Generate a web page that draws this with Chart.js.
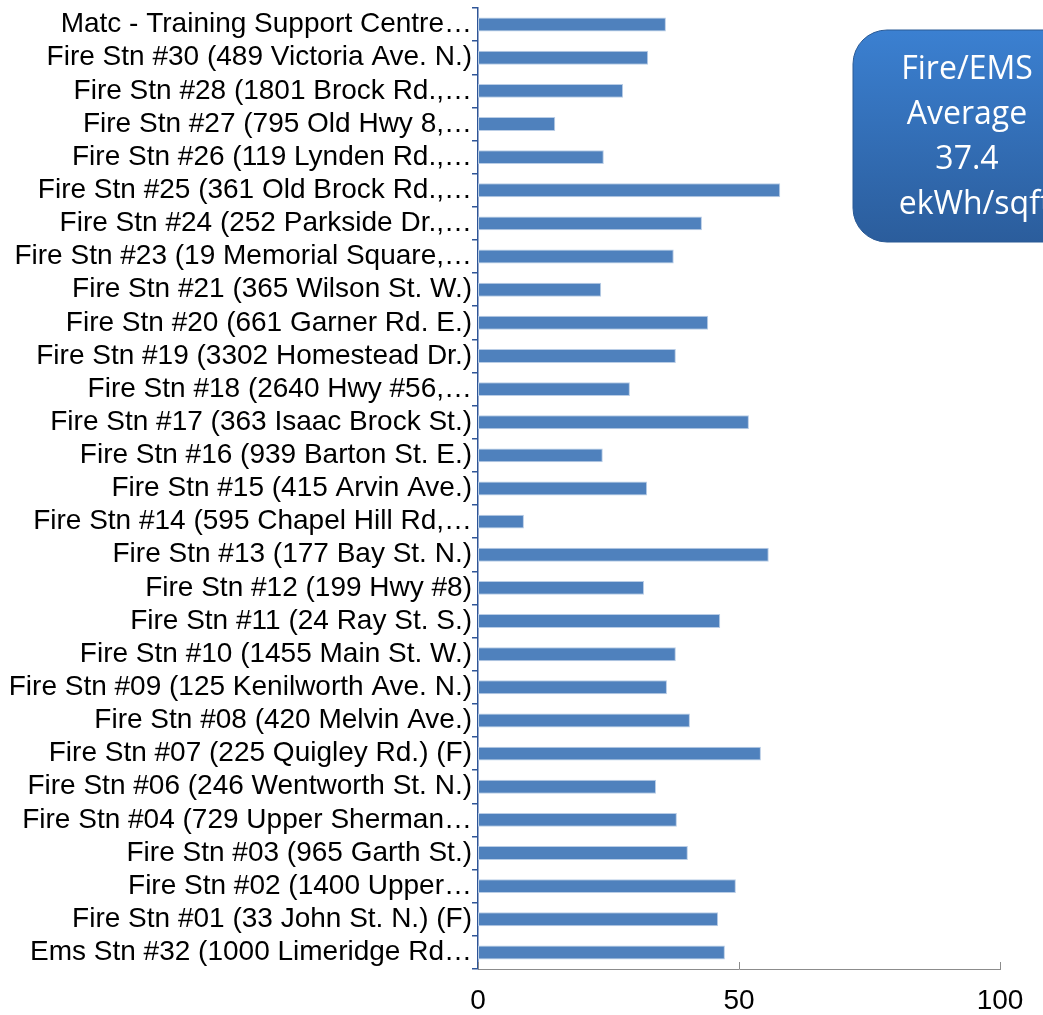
<!DOCTYPE html>
<html>
<head>
<meta charset="utf-8">
<script src="https://cdn.jsdelivr.net/npm/chart.js@4/dist/chart.umd.min.js"></script>
<style>
  body { margin: 0; background: #fff; }
  canvas { display: block; }
</style>
</head>
<body>
<canvas id="myChart" width="1043" height="1015"></canvas>
<script>
const stations = [
    'Matc - Training Support Centre…',
    'Fire Stn #30 (489 Victoria Ave. N.)',
    'Fire Stn #28 (1801 Brock Rd.,…',
    'Fire Stn #27 (795 Old Hwy 8,…',
    'Fire Stn #26 (119 Lynden Rd.,…',
    'Fire Stn #25 (361 Old Brock Rd.,…',
    'Fire Stn #24 (252 Parkside Dr.,…',
    'Fire Stn #23 (19 Memorial Square,…',
    'Fire Stn #21 (365 Wilson St. W.)',
    'Fire Stn #20 (661 Garner Rd. E.)',
    'Fire Stn #19 (3302 Homestead Dr.)',
    'Fire Stn #18 (2640 Hwy #56,…',
    'Fire Stn #17 (363 Isaac Brock St.)',
    'Fire Stn #16 (939 Barton St. E.)',
    'Fire Stn #15 (415 Arvin Ave.)',
    'Fire Stn #14 (595 Chapel Hill Rd,…',
    'Fire Stn #13 (177 Bay St. N.)',
    'Fire Stn #12 (199 Hwy #8)',
    'Fire Stn #11 (24 Ray St. S.)',
    'Fire Stn #10 (1455 Main St. W.)',
    'Fire Stn #09 (125 Kenilworth Ave. N.)',
    'Fire Stn #08 (420 Melvin Ave.)',
    'Fire Stn #07 (225 Quigley Rd.) (F)',
    'Fire Stn #06 (246 Wentworth St. N.)',
    'Fire Stn #04 (729 Upper Sherman…',
    'Fire Stn #03 (965 Garth St.)',
    'Fire Stn #02 (1400 Upper…',
    'Fire Stn #01 (33 John St. N.) (F)',
    'Ems Stn #32 (1000 Limeridge Rd…'
];

// ekWh/sqft
const intensity = [
    36.0, 32.6, 27.8, 14.8, 24.1, 57.9, 42.9, 37.5, 23.6, 44.1,
    37.9, 29.1, 51.9, 23.9, 32.4, 8.8, 55.7, 31.8, 46.4, 37.9,
    36.2, 40.6, 54.2, 34.1, 38.1, 40.2, 49.4, 46.0, 47.3
];

const xTicks = [0, 50, 100];
const calloutLines = ['Fire/EMS', 'Average', '37.4', 'ekWh/sqft'];

// small upward tick marks on the x axis + the rounded callout box
const extras = {
    id: 'extras',
    afterDraw(chart) {
        const ctx = chart.ctx;
        const x = chart.scales.x;
        const bottom = chart.chartArea.bottom;
        ctx.save();
        ctx.strokeStyle = '#8c8c8c';
        ctx.lineWidth = 1;
        xTicks.forEach(v => {
            const px = Math.round(x.getPixelForValue(v)) + 0.5;
            ctx.beginPath();
            ctx.moveTo(px, bottom);
            ctx.lineTo(px, bottom - 7);
            ctx.stroke();
        });

        // callout
        const bx = 853, by = 30, bw = 230, bh = 212, r = 34;
        const grad = ctx.createLinearGradient(0, by, 0, by + bh);
        grad.addColorStop(0, '#3b80d1');
        grad.addColorStop(1, '#2b5d9c');
        ctx.beginPath();
        ctx.roundRect(bx, by, bw, bh, r);
        ctx.fillStyle = grad;
        ctx.fill();
        ctx.strokeStyle = '#2a5a95';
        ctx.stroke();
        ctx.fillStyle = '#ffffff';
        ctx.font = '32px "Open Sans", "Noto Sans", sans-serif';
        ctx.textAlign = 'center';
        ctx.textBaseline = 'middle';
        calloutLines.forEach((t, i) => {
            ctx.fillText(t, i === 3 ? 975 : 967, 70 + i * 45);
        });
        ctx.restore();
    }
};

const ctx = document.getElementById('myChart').getContext('2d');
const myChart = new Chart(ctx, {
    type: 'bar',
    data: {
        labels: stations,
        datasets: [{
            data: intensity,
            backgroundColor: '#4f81bd',
            borderColor: '#b9cde6',
            borderWidth: 1,
            borderSkipped: false,
            barPercentage: 0.42,
            categoryPercentage: 1.0
        }]
    },
    options: {
        indexAxis: 'y',
        responsive: false,
        animation: false,
        layout: {
            padding: { top: 8, right: 43, left: 0, bottom: 0 }
        },
        plugins: {
            legend: { display: false },
            tooltip: { enabled: false }
        },
        scales: {
            x: {
                min: 0,
                max: 100,
                afterBuildTicks: scale => {
                    scale.ticks = xTicks.map(v => ({ value: v }));
                },
                afterFit: scale => { scale.height = 46; },
                grid: { display: false },
                border: { color: '#8c8c8c', width: 1 },
                ticks: {
                    color: '#000',
                    padding: 7,
                    font: { family: '"Liberation Sans", Arial, sans-serif', size: 28 }
                }
            },
            y: {
                afterFit: scale => {
                    scale.width = 478;
                    scale.paddingTop = 0;
                    scale.paddingBottom = 0;
                },
                grid: {
                    drawOnChartArea: false,
                    offset: true,
                    tickLength: 6,
                    color: '#2f5597',
                    lineWidth: 1.5
                },
                border: { color: '#2f5597', width: 1.5 },
                ticks: {
                    color: '#000',
                    padding: 0,
                    autoSkip: false,
                    font: { family: '"Liberation Sans", Arial, sans-serif', size: 28 }
                }
            }
        }
    },
    plugins: [extras]
});
</script>
</body>
</html>
